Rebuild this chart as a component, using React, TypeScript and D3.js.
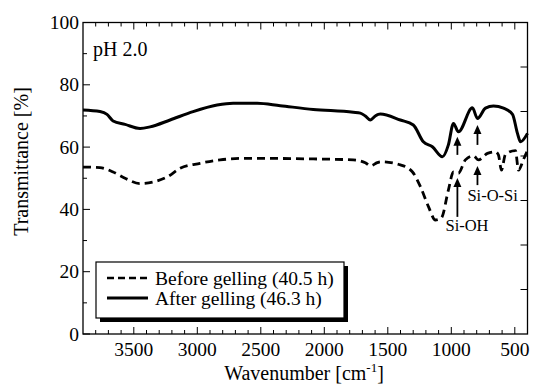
import * as d3 from 'd3'

// wavenumber [cm-1], transmittance [%]
const afterWn = [3900, 3766, 3711, 3663, 3569, 3451, 3372, 3214, 3033, 2844, 2718, 2528, 2347, 2087, 1772, 1716, 1677, 1638, 1598, 1575, 1559, 1401, 1299, 1220, 1149, 1070, 1023, 983, 944, 834, 794, 731, 668, 589, 518, 479, 455, 400]
const afterT = [71.9, 71.4, 70.5, 68.4, 67.3, 66.0, 66.5, 68.7, 71.4, 73.5, 74.1, 74.1, 73.3, 72.1, 71.2, 70.9, 70.0, 68.7, 70.0, 70.5, 70.6, 68.7, 67.1, 61.7, 60.1, 56.9, 60.7, 67.6, 64.9, 72.6, 69.2, 72.5, 73.2, 72.5, 70.5, 64.4, 61.7, 64.4]

const beforeWn = [3900, 3766, 3663, 3569, 3451, 3238, 3135, 2978, 2820, 2607, 2087, 1772, 1677, 1638, 1583, 1559, 1401, 1307, 1243, 1180, 1125, 1078, 1023, 983, 944, 889, 826, 786, 715, 652, 629, 605, 574, 495, 471, 432, 400]
const beforeT = [53.6, 53.4, 52.0, 50.0, 48.3, 50.4, 53.2, 54.8, 55.9, 56.4, 56.2, 55.9, 55.0, 54.0, 55.0, 55.3, 54.3, 52.1, 47.3, 40.9, 36.6, 37.3, 46.2, 52.0, 51.6, 55.9, 57.2, 55.9, 58.0, 58.5, 57.5, 52.6, 57.6, 58.9, 52.6, 56.0, 59.0]

const seriesNames = ['Before gelling (40.5 h)', 'After gelling (46.3 h)']

const xMajor = [3500, 3000, 2500, 2000, 1500, 1000, 500]
const xMinor = d3.range(3800, 399, -100).filter(v => v % 500 !== 0)
const yMajor = [0, 20, 40, 60, 80, 100]
const yMinor = [10, 30, 50, 70, 90]
const rightTicks = [1, 2, 3, 4, 5, 6]

// arrows: [wavenumber, tip, tail]
const arrows: [number, number, number][] = [
  [952, 63.3, 57.5],
  [794, 67.1, 60.7],
  [952, 50.1, 37.6],
  [794, 53.9, 47.8],
]
const labels: [string, number, number][] = [
  ['Si-O-Si', 873, 42.7],
  ['Si-OH', 1046, 33.1],
]

const W = 533
const H = 387
const L = 83, R = 527.5, T = 22.5, B = 334
const FONT = '"Liberation Serif", "Times New Roman", serif'

export default function App() {
  const x = d3.scaleLinear().domain([3900, 400]).range([L, R])
  const y = d3.scaleLinear().domain([0, 100]).range([B, T])
  const yr = d3.scaleLinear().domain([0, 7]).range([B, T])

  const line = d3.line<[number, number]>()
    .x(d => x(d[0])).y(d => y(d[1]))
    .curve(d3.curveMonotoneX)

  const after = line(afterWn.map((w, i) => [w, afterT[i]]))!
  const before = line(beforeWn.map((w, i) => [w, beforeT[i]]))!

  const lx = 96, ly = 262, lw = 248, lh = 56

  return (
    <svg width={W} height={H} style={{ position: 'absolute', left: 0, top: 0, background: '#fff' }}
      fontFamily={FONT} fill="#000">
      {/* curves */}
      <path d={before} fill="none" stroke="#000" strokeWidth={2.8} strokeDasharray="8,5" />
      <path d={after} fill="none" stroke="#000" strokeWidth={3} />

      {/* frame */}
      <rect x={L} y={T} width={R - L} height={B - T} fill="none" stroke="#000" strokeWidth={1.3} />

      {/* x ticks bottom + top */}
      {xMajor.map(v => (
        <g key={'xM' + v}>
          <line x1={x(v)} x2={x(v)} y1={B} y2={B - 7} stroke="#000" strokeWidth={1} />
          <line x1={x(v)} x2={x(v)} y1={T} y2={T + 7} stroke="#000" strokeWidth={1} />
          <text x={x(v)} y={356} textAnchor="middle" fontSize={19.5}>{v}</text>
        </g>
      ))}
      {xMinor.map(v => (
        <g key={'xm' + v}>
          <line x1={x(v)} x2={x(v)} y1={B} y2={B - 4} stroke="#000" strokeWidth={1} />
          <line x1={x(v)} x2={x(v)} y1={T} y2={T + 4} stroke="#000" strokeWidth={1} />
        </g>
      ))}

      {/* y ticks */}
      {yMajor.map(v => (
        <g key={'yM' + v}>
          <line x1={L} x2={L + 7} y1={y(v)} y2={y(v)} stroke="#000" strokeWidth={1} />
          <text x={79} y={y(v)} dy="0.34em" textAnchor="end" fontSize={19.5}>{v}</text>
        </g>
      ))}
      {yMinor.map(v => (
        <line key={'ym' + v} x1={L} x2={L + 4} y1={y(v)} y2={y(v)} stroke="#000" strokeWidth={1} />
      ))}
      {rightTicks.map(v => (
        <line key={'yr' + v} x1={R} x2={R - 7} y1={yr(v)} y2={yr(v)} stroke="#000" strokeWidth={1} />
      ))}

      {/* axis titles */}
      <text transform={`translate(28,161.5) rotate(-90)`} textAnchor="middle" fontSize={20}>Transmittance [%]</text>
      <text x={304} y={380} textAnchor="middle" fontSize={20}>
        Wavenumber [cm<tspan fontSize={13} dy={-8}>-1</tspan><tspan dy={8}>]</tspan>
      </text>

      <text x={93} y={56} fontSize={20}>pH 2.0</text>

      {/* annotations */}
      {arrows.map(([w, tip, tail], i) => {
        const px = x(w), t = y(tip), b = y(tail)
        return (
          <g key={'ar' + i}>
            <line x1={px} x2={px} y1={t + 6} y2={b} stroke="#000" strokeWidth={1.8} />
            <path d={`M${px},${t} L${px - 4},${t + 9} L${px + 4},${t + 9} Z`} fill="#000" />
          </g>
        )
      })}
      {labels.map(([s, w, v]) => (
        <text key={s} x={x(w)} y={y(v)} fontSize={16.5}>{s}</text>
      ))}

      {/* legend */}
      <rect x={lx + 4} y={ly + 4} width={lw} height={lh} fill="#000" />
      <rect x={lx} y={ly} width={lw} height={lh} fill="#fff" stroke="#000" strokeWidth={1.2} />
      <line x1={107} x2={148} y1={278} y2={278} stroke="#000" strokeWidth={2.5} strokeDasharray="7,4" />
      <line x1={107} x2={148} y1={298} y2={298} stroke="#000" strokeWidth={3} />
      <text x={155} y={285} fontSize={19.5}>{seriesNames[0]}</text>
      <text x={155} y={305} fontSize={19.5}>{seriesNames[1]}</text>
    </svg>
  )
}
